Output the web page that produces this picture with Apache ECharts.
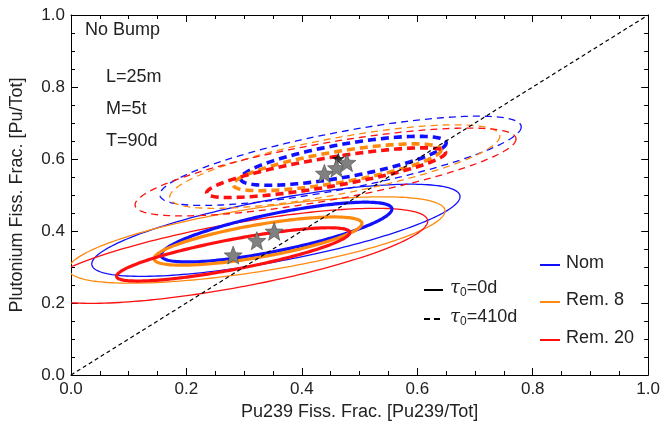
<!DOCTYPE html>
<html>
<head>
<meta charset="utf-8">
<script src="https://cdn.jsdelivr.net/npm/echarts@6/dist/echarts.min.js"></script>
<style>
  html, body { margin: 0; padding: 0; background: #fff; }
  #chart { width: 663px; height: 428px; }
</style>
</head>
<body>
<div id="chart"></div>
<script>
// 情形
const scenarios = ['Nom', 'Rem. 8', 'Rem. 20'];
const colors = ['#1010ff', '#ff8a10', '#ff1010'];

// 椭圆参数: [中心x, 中心y, x半宽, y半高, 相关系数]
// τ0=0d
const solidInner = [
  [0.356, 0.397, 0.200, 0.083, 0.77],
  [0.324, 0.372, 0.180, 0.067, 0.73],
  [0.281, 0.335, 0.202, 0.074, 0.82]
];
const solidOuter = [
  [0.355, 0.402, 0.319, 0.128, 0.73],
  [0.322, 0.375, 0.326, 0.120, 0.67],
  [0.281, 0.331, 0.337, 0.132, 0.73]
];
// τ0=410d
const dashInner = [
  [0.472, 0.595, 0.178, 0.068, 0.73],
  [0.461, 0.577, 0.180, 0.065, 0.74],
  [0.442, 0.562, 0.207, 0.069, 0.81]
];
const dashOuter = [
  [0.467, 0.595, 0.313, 0.124, 0.76],
  [0.457, 0.579, 0.286, 0.116, 0.73],
  [0.441, 0.564, 0.330, 0.122, 0.75]
];

// 最佳拟合点
const starPoints = [
  [0.281, 0.333], [0.322, 0.373], [0.352, 0.399],
  [0.439, 0.560], [0.460, 0.575], [0.478, 0.590]
];
const truePoints = [[0.463, 0.601]];
const diagonal = [[0, 0], [1, 1]];

const font = 'Liberation Sans, Arial, sans-serif';
const starPath = 'path://M0,-10L2.6,-3.4L9.5,-3.1L4.1,1.3L5.9,8.1L0,4.2L-5.9,8.1L-4.1,1.3L-9.5,-3.1L-2.6,-3.4Z';

function ellipseSeries(data, width, dash) {
  return {
    type: 'custom',
    clip: true,
    z: width > 2 ? 3 : 2,
    data: data,
    encode: { x: 0, y: 1 },
    renderItem: function (params, api) {
      const cx = api.value(0), cy = api.value(1);
      const sx = api.value(2), sy = api.value(3);
      const d = Math.acos(api.value(4));
      const pts = [];
      for (let i = 0; i < 200; i++) {
        const t = (i / 200) * Math.PI * 2;
        pts.push(api.coord([cx + sx * Math.cos(t), cy + sy * Math.cos(t + d)]));
      }
      return {
        type: 'polygon',
        shape: { points: pts },
        style: {
          fill: 'none',
          stroke: colors[params.dataIndex],
          lineWidth: width,
          lineDash: dash
        }
      };
    }
  };
}

function frameAxis(pos, showLabel, name) {
  const horizontal = pos === 'bottom' || pos === 'top';
  return {
    type: 'value',
    min: 0,
    max: 1,
    interval: 0.2,
    position: pos,
    name: name,
    nameLocation: 'middle',
    nameGap: horizontal ? 27 : 45,
    nameTextStyle: { color: '#222', fontSize: 18, fontFamily: font },
    axisLine: { onZero: false, lineStyle: { color: '#000', width: 1 } },
    axisTick: { show: true, inside: true, length: 7, lineStyle: { color: '#000' } },
    minorTick: { show: true, splitNumber: 4, length: 4, lineStyle: { color: '#000' } },
    axisLabel: {
      show: showLabel,
      color: '#222',
      fontSize: 17,
      fontFamily: font,
      margin: 6,
      formatter: function (v) { return v.toFixed(1); }
    },
    splitLine: { show: false }
  };
}

const chart = echarts.init(document.getElementById('chart'));

const graphics = [];
// 注释文字
[['No Bump', 85, 31], ['L=25m', 106, 78], ['M=5t', 106, 110], ['T=90d', 106, 142]].forEach(function (a) {
  graphics.push({
    type: 'text', left: a[1], top: a[2] - 10,
    style: { text: a[0], fill: '#222', font: '18px ' + font }
  });
});
// 颜色图例
scenarios.forEach(function (s, i) {
  const y = [265, 302, 340][i];
  graphics.push({
    type: 'line', shape: { x1: 540, y1: y, x2: 560, y2: y },
    style: { stroke: colors[i], lineWidth: 2 }
  });
  graphics.push({
    type: 'text', left: 566, top: y - 11,
    style: { text: s, fill: '#222', font: '18px ' + font }
  });
});
// 线型图例
[['0d', 290, null], ['410d', 319, [6, 4]]].forEach(function (a) {
  graphics.push({
    type: 'line', shape: { x1: 424, y1: a[1], x2: 443, y2: a[1] },
    style: { stroke: '#000', lineWidth: 2, lineDash: a[2] }
  });
  graphics.push({
    type: 'text', left: 450, top: a[1] - 12,
    style: {
      text: '{t|τ}{s|0}{n|=' + a[0] + '}',
      rich: {
        t: { fontSize: 18, fontStyle: 'italic', fontFamily: 'DejaVu Serif', fill: '#222', lineHeight: 22 },
        s: { fontSize: 12, fontFamily: font, fill: '#222', padding: [9, 0, 0, 0], lineHeight: 12 },
        n: { fontSize: 18, fontFamily: font, fill: '#222', lineHeight: 22 }
      }
    }
  });
});

chart.setOption({
  animation: false,
  grid: { left: 66.5, right: 13, top: 15, bottom: 53 },
  xAxis: [frameAxis('bottom', true, 'Pu239 Fiss. Frac. [Pu239/Tot]'), frameAxis('top', false, '')],
  yAxis: [frameAxis('left', true, 'Plutonium Fiss. Frac. [Pu/Tot]'), frameAxis('right', false, '')],
  graphic: graphics,
  series: [
    ellipseSeries(solidOuter, 1.3, null),
    ellipseSeries(dashOuter, 1.3, [7, 5]),
    ellipseSeries(solidInner, 3.2, null),
    ellipseSeries(dashInner, 3.6, [8, 5]),
    {
      type: 'line',
      data: diagonal,
      symbol: 'none',
      z: 4,
      lineStyle: { color: '#000', width: 1.2, type: [4, 3] }
    },
    {
      type: 'scatter',
      data: truePoints,
      symbol: starPath,
      symbolSize: 13,
      z: 5,
      itemStyle: { color: '#000' }
    },
    {
      type: 'scatter',
      data: starPoints,
      symbol: starPath,
      symbolSize: 18,
      z: 6,
      itemStyle: { color: '#808080', borderColor: '#444', borderWidth: 0.6, opacity: 1 }
    }
  ]
});
</script>
</body>
</html>
